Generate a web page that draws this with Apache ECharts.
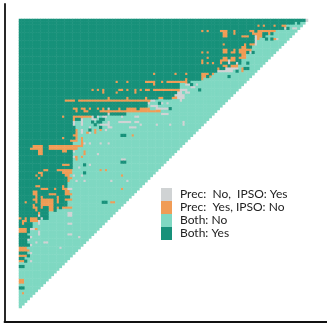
<!DOCTYPE html>
<html><head><meta charset="utf-8">
<style>html,body{margin:0;padding:0;background:#fff}#c{width:327px;height:327px}</style>
<script src="https://cdn.jsdelivr.net/npm/echarts@6/dist/echarts.min.js"></script>
</head><body><div id="c"></div>
<script>
var N = 108;
var labels = ['Prec:  No,  IPSO: Yes','Prec:  Yes, IPSO: No','Both: No','Both: Yes'];
var colors = ['#d0d3d4','#f09c56','#7fd8c2','#17917a'];
// count of "Both: Yes" cells at the start of each row
var darkEnd = [107,103,100,99,96,95,92,90,88,87,87,87,86,85,85,83,83,82,81,79,73,71,68,64,60,60,59,59,58,57,49,48,48,47,46,40,27,23,21,21,21,21,21,21,21,20,20,20,20,20,20,20,20,20,20,20,20,20,19,19,19,18,18,19,19,19,19,19,18,18,18,14,11,11,11,7,5,5,5,4,3,4,3,3,4,3,4,3,4,2,3,0,2,0,0,0,0,0,0,0,2,0,0,0,0,0,0,0];
// runs: [row, firstColumn, length]
var orange = [[2,89,1],[2,91,1],[2,95,1],[2,98,2],[4,68,1],[4,70,1],[4,75,3],[4,80,1],[4,86,2],[4,89,7],[5,76,2],[5,80,1],[5,87,2],[5,89,2],[5,93,1],[6,76,2],[6,83,3],[6,89,2],[7,89,1],[7,95,1],[9,76,1],[9,84,1],[9,86,2],[10,83,2],[11,76,2],[11,80,1],[11,82,5],[12,68,1],[12,70,1],[12,76,2],[12,79,2],[12,82,3],[13,83,2],[14,70,1],[14,76,2],[14,79,2],[14,82,3],[15,68,1],[15,75,3],[15,79,2],[16,68,1],[16,70,1],[16,72,1],[16,75,1],[17,76,2],[17,79,3],[18,74,1],[18,83,1],[19,83,1],[20,50,1],[20,58,1],[20,62,1],[20,68,3],[20,72,1],[21,68,2],[21,71,1],[22,62,1],[22,68,1],[23,36,1],[23,40,1],[23,47,4],[23,53,1],[23,55,5],[23,60,3],[24,50,1],[26,27,1],[26,29,1],[26,31,1],[26,37,2],[26,40,1],[26,43,1],[26,45,1],[26,47,2],[26,50,10],[27,31,1],[27,36,1],[27,43,1],[29,40,1],[29,47,1],[29,52,2],[29,57,2],[30,17,2],[30,19,2],[30,22,2],[30,24,2],[30,26,15],[30,41,8],[33,20,2],[33,23,2],[33,26,1],[29,33,1],[33,29,1],[33,31,1],[33,37,1],[33,40,4],[33,45,4],[34,21,1],[34,24,2],[34,30,3],[34,33,20],[36,16,1],[36,20,7],[37,20,1],[41,21,1],[41,28,1],[41,30,1],[42,21,1],[42,25,1],[42,28,1],[43,20,2],[43,42,1],[44,16,1],[44,21,1],[44,23,1],[45,19,3],[45,23,1],[46,23,1],[47,5,4],[47,11,13],[48,4,5],[48,11,11],[49,7,2],[49,16,2],[49,24,1],[50,7,2],[50,24,1],[51,21,1],[51,23,1],[52,21,1],[54,16,3],[56,14,1],[56,9,2],[56,15,5],[56,30,1],[56,32,1],[57,7,2],[57,16,4],[58,6,1],[58,8,1],[58,17,2],[58,38,1],[59,7,1],[59,18,2],[60,18,1],[62,6,2],[62,16,1],[63,8,3],[63,13,1],[63,16,2],[63,38,1],[64,5,2],[64,17,2],[65,5,2],[65,11,3],[65,17,3],[66,6,1],[66,8,1],[66,14,1],[67,5,2],[67,8,5],[67,14,1],[67,17,3],[68,2,1],[68,6,1],[68,8,5],[68,14,1],[68,34,2],[69,5,1],[69,8,5],[70,5,2],[70,8,1],[70,11,2],[70,14,1],[70,16,4],[71,6,1],[71,11,2],[72,7,1],[74,0,1],[74,2,1],[74,4,3],[75,1,2],[75,4,3],[76,1,1],[78,0,3],[78,6,1],[79,0,3],[85,0,3],[86,0,2],[86,2,2],[88,0,3],[90,0,2],[97,0,2],[98,0,2],[102,1,1]];
var grey = [[0,107,1],[3,99,1],[3,102,2],[6,88,1],[7,88,1],[7,96,1],[8,88,1],[9,88,1],[12,86,1],[15,78,1],[16,78,1],[16,81,1],[18,77,4],[18,81,1],[19,74,6],[24,62,2],[24,66,1],[25,64,2],[26,60,3],[27,59,2],[27,62,2],[28,58,4],[29,59,3],[30,49,2],[30,60,1],[31,48,1],[31,53,1],[31,55,1],[32,49,3],[33,33,1],[33,47,1],[33,51,5],[35,53,3],[35,33,1],[36,27,1],[36,29,1],[36,31,2],[36,38,1],[36,43,2],[37,23,1],[37,27,2],[38,20,1],[38,23,1],[38,33,1],[38,37,5],[38,43,2],[38,61,1],[39,20,1],[39,23,1],[39,30,4],[39,45,1],[39,51,1],[39,56,1],[39,61,1],[40,26,1],[40,33,2],[40,41,3],[41,23,1],[41,32,1],[42,23,1],[42,26,1],[46,24,1],[46,26,1],[46,30,1],[46,33,1],[49,20,1],[50,29,1],[51,20,1],[52,38,2],[54,26,1],[55,22,1],[58,20,1],[58,23,1],[60,21,1],[60,24,1],[60,34,1],[60,40,1],[63,18,2],[72,18,2],[73,7,1],[73,18,2],[74,8,1],[75,7,1],[76,7,1],[76,18,2],[78,4,2],[79,7,1],[80,7,1],[80,18,2],[81,4,1],[81,22,1],[82,3,1],[83,6,1],[83,9,2],[84,4,1],[85,15,1],[87,4,1],[90,4,1]];
var dark = [[1,104,1],[3,100,1],[7,92,1],[7,94,1],[12,87,1],[16,85,1],[18,84,2],[19,81,1],[21,78,1],[24,64,1],[26,67,1],[27,63,1],[31,52,1],[33,56,1],[35,28,2],[35,30,2],[36,28,1],[37,30,2],[38,27,1],[38,29,2],[39,28,1],[40,30,1],[41,26,1],[43,38,2],[53,38,2],[54,24,1],[57,24,1],[68,31,2]];

function buildCells(){
  var g=[],r,c;
  for(r=0;r<N;r++){g[r]=[];for(c=0;c<N-r;c++)g[r][c]=c<darkEnd[r]?3:2;}
  function put(list,k){list.forEach(function(a){for(var i=0;i<a[2];i++){if(g[a[0]][a[1]+i]!==undefined)g[a[0]][a[1]+i]=k;}});}
  put(dark,3);put(grey,0);put(orange,1);
  var out=[[],[],[],[]];
  for(r=0;r<N;r++)for(c=0;c<N-r;c++)out[g[r][c]].push([c,r,1]);
  return out;
}
var cells=buildCells();
var cats=[];for(var i=0;i<N;i++)cats.push(String(i));
var hidden={show:false};
var chart=echarts.init(document.getElementById('c'),null,{renderer:'canvas'});
chart.setOption({
  animation:false,
  backgroundColor:'#fff',
  grid:[{left:19,top:19,width:289,height:289},{left:4.5,top:4,right:0,bottom:5.5}],
  xAxis:[
    {type:'category',data:cats,gridIndex:0,axisLine:hidden,axisTick:hidden,axisLabel:hidden,splitLine:hidden},
    {type:'value',gridIndex:1,min:0,max:1,axisLine:{show:true,onZero:false,lineStyle:{color:'#111',width:1.8}},axisTick:hidden,axisLabel:hidden,splitLine:hidden}
  ],
  yAxis:[
    {type:'category',data:cats,inverse:true,gridIndex:0,axisLine:hidden,axisTick:hidden,axisLabel:hidden,splitLine:hidden},
    {type:'value',gridIndex:1,min:0,max:1,axisLine:{show:true,onZero:false,lineStyle:{color:'#111',width:1.8}},axisTick:hidden,axisLabel:hidden,splitLine:hidden}
  ],
  legend:{
    left:156,top:183,orient:'vertical',itemWidth:11,itemHeight:13,itemGap:0,icon:'rect',
    data:labels,selectedMode:false,
    textStyle:{fontFamily:'Lato',fontSize:12,lineHeight:13,color:'#222',padding:[0,0,0,3]}
  },
  series:labels.map(function(n,i){return {
    name:n,type:'heatmap',data:cells[i],xAxisIndex:0,yAxisIndex:0,
    itemStyle:{color:colors[i]},emphasis:{disabled:true},silent:true
  };})
});
</script></body></html>
